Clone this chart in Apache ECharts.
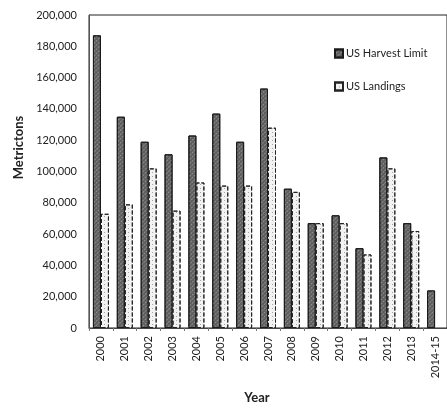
<!DOCTYPE html>
<html>
<head>
<meta charset="utf-8">
<script src="https://cdn.jsdelivr.net/npm/echarts@6/dist/echarts.min.js"></script>
<style>
html,body{margin:0;padding:0;background:#fff;}
#c{width:447px;height:409px;}
</style>
</head>
<body>
<div id="c"></div>
<script>
const years = ['2000','2001','2002','2003','2004','2005','2006','2007','2008','2009','2010','2011','2012','2013','2014-15'];
const harvestLimit = [187000,135000,119000,111000,123000,137000,119000,153000,89000,67000,72000,51000,109000,67000,24000];
const landings = [73000,79000,102000,75000,93000,91000,91000,128000,87000,67000,67000,47000,102000,62000,null];
const yTicks = {min:0, max:200000, interval:20000};

const chart = echarts.init(document.getElementById('c'), null, {renderer:'canvas'});
const font = 'Lato, "Open Sans", sans-serif';
chart.setOption({
  animation:false,
  aria:{enabled:true, decal:{show:true}},
  grid:{left:89, right:-2, top:15, bottom:77, show:true, borderColor:'#222', borderWidth:1, backgroundColor:'transparent'},
  legend:{
    orient:'vertical', left:329, top:43, itemGap:22, itemWidth:8, itemHeight:8, icon:'rect',
    textStyle:{fontFamily:font, fontSize:11, color:'#222', padding:[0,0,0,-2]},
    data:['US Harvest Limit','US Landings']
  },
  xAxis:{
    type:'category', data:years,
    name:'Year', nameLocation:'middle', nameGap:63,
    nameTextStyle:{fontFamily:font, fontSize:13, fontWeight:'bold', color:'#222', padding:[0,22,0,0]},
    axisLine:{lineStyle:{color:'#444', width:1}},
    axisTick:{show:true, length:3, lineStyle:{color:'#777'}},
    axisLabel:{rotate:90, fontFamily:font, fontSize:11, color:'#222', margin:8}
  },
  yAxis:{
    type:'value', min:yTicks.min, max:yTicks.max, interval:yTicks.interval,
    name:'Metrictons', nameLocation:'middle', nameGap:64, nameRotate:90,
    nameTextStyle:{fontFamily:font, fontSize:13, fontWeight:'bold', color:'#222', padding:[0,0,0,48]},
    axisLine:{show:true, lineStyle:{color:'#555', width:1}},
    axisTick:{show:false},
    splitLine:{show:false},
    axisLabel:{fontFamily:font, fontSize:11, color:'#222', margin:12,
      formatter:v=>v.toLocaleString('en-US')}
  },
  series:[
    {name:'US Harvest Limit', type:'bar', data:harvestLimit, barWidth:8, barGap:'0%',
     itemStyle:{color:'#5e5e5e', borderColor:'#1a1a1a', borderWidth:1,
       decal:{symbol:'rect', color:'rgba(200,200,200,0.45)', dashArrayX:[1,2], dashArrayY:[2,1], rotation:0.8, symbolSize:1}}},
    {name:'US Landings', type:'bar', data:landings, barWidth:8,
     itemStyle:{color:'#f2f2f2', borderColor:'#222', borderWidth:1, borderType:'dashed',
       decal:{symbol:'rect', color:'rgba(90,90,90,0.5)', dashArrayX:[1,3], dashArrayY:[1,3], rotation:0, symbolSize:1}}}
  ]
});
</script>
</body>
</html>
